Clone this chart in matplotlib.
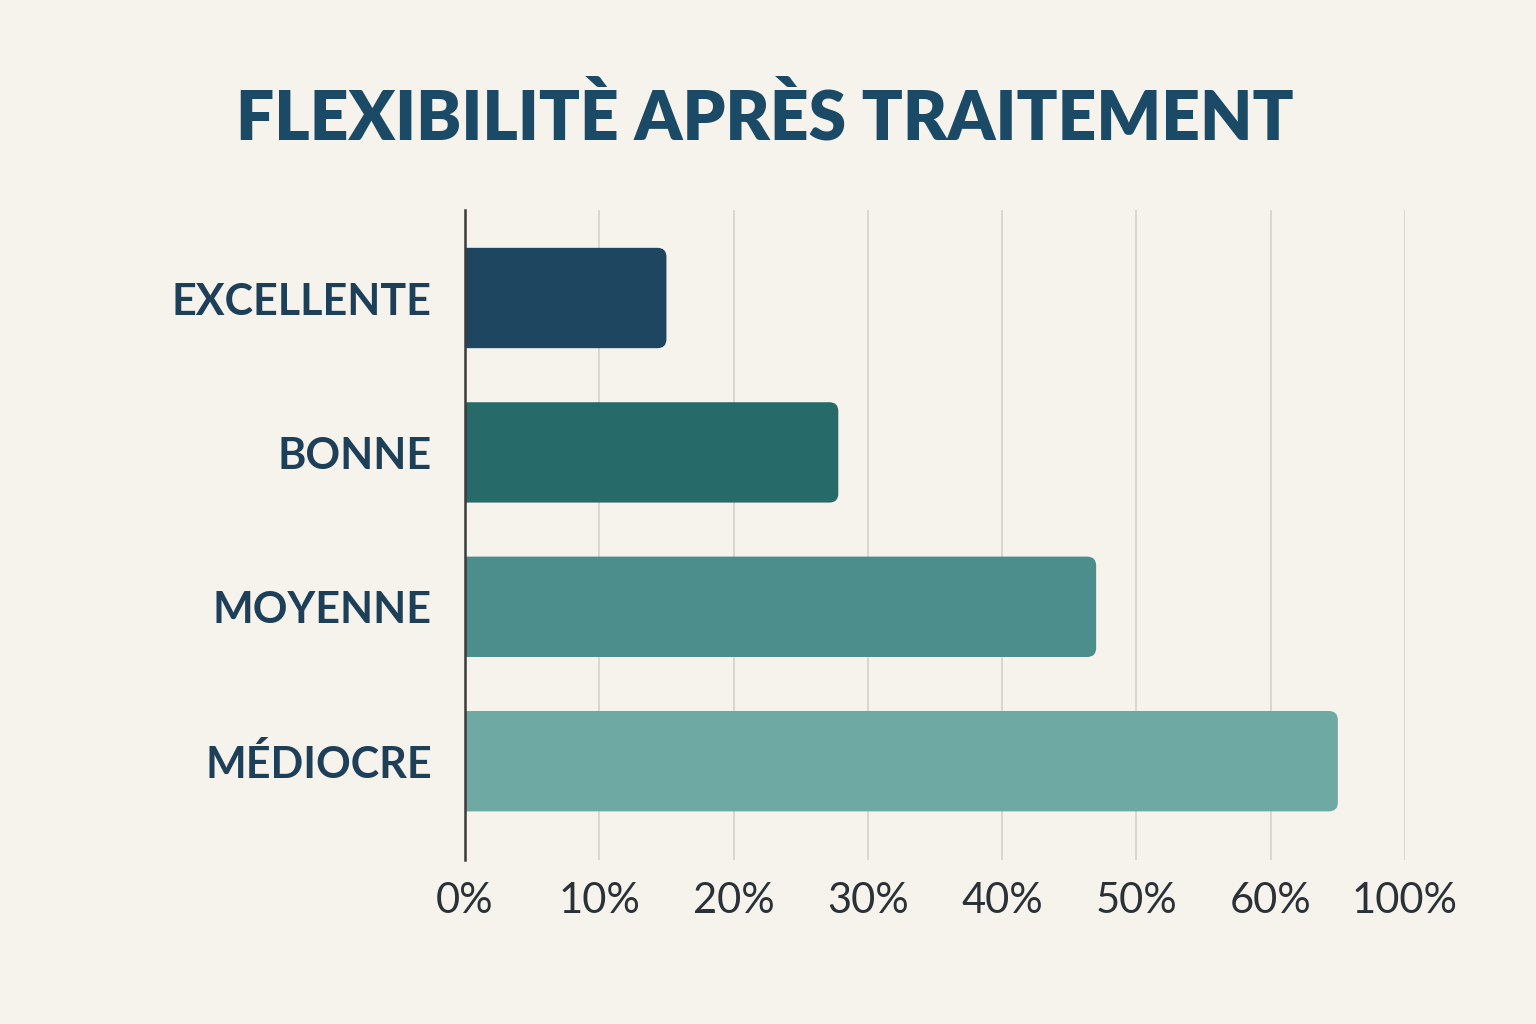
import matplotlib
matplotlib.use('Agg')
import matplotlib.pyplot as plt
from matplotlib.patches import FancyBboxPatch

# data
categories = ['EXCELLENTE', 'BONNE', 'MOYENNE', 'MÉDIOCRE']
values = [15, 27.8, 47, 65]
tick_pos = [0, 10, 20, 30, 40, 50, 60, 70]
tick_labels = ['0%', '10%', '20%', '30%', '40%', '50%', '60%', '100%']
colors = ['#1f4660', '#276a6a', '#4b8e8c', '#6ea9a3']
title = 'FLEXIBILITÈ APRÈS TRAITEMENT'

bg = '#f6f3ed'
fig = plt.figure(figsize=(15.36, 10.24), dpi=100, facecolor=bg)
ax = fig.add_axes([465/1536, 1-860/1024, (1405-465)/1536, (860-210)/1024])
ax.set_facecolor(bg)

ypos = list(range(len(categories)))
bars = ax.barh(ypos, values, height=0.65, color=colors)

# swap the plain bars for ones with rounded right ends
px_x = (1405-465)/70.0
px_y = 155.0
r = 9/px_x
for b, c in zip(bars, colors):
    x0, y0 = b.get_x(), b.get_y()
    w, h = b.get_width(), b.get_height()
    b.set_visible(False)
    p = FancyBboxPatch((x0-2, y0), w+2, h,
                       boxstyle=f"round,pad=0,rounding_size={r}",
                       mutation_aspect=(px_x/px_y),
                       facecolor=c, edgecolor='none', zorder=3)
    ax.add_patch(p)

ax.set_xlim(0, 70)
ax.set_ylim(3.64, -0.57)
ax.set_xticks(tick_pos)
ax.set_xticklabels(tick_labels, fontsize=30, color='#2b3237', family='Lato')
ax.set_yticks(ypos)
ax.set_yticklabels(categories, fontsize=31, color='#1d3f58', family='Lato', fontweight='bold')
ax.tick_params(axis='x', length=0, pad=16)
ax.tick_params(axis='y', length=0, pad=24)
ax.grid(axis='x', color='#d8d5cf', linewidth=1.3, zorder=0)
ax.set_axisbelow(True)
for s in ['top', 'right', 'bottom']:
    ax.spines[s].set_visible(False)
ax.spines['left'].set_color('#3a3a3a')
ax.spines['left'].set_linewidth(1.8)
ax.spines['left'].set_zorder(4)

fig.text(765/1536, 1-119/1024, title, ha='center', va='center',
         fontsize=48.7, fontweight='heavy', color='#1b4a66', family='Lato')

fig.savefig('out.png', dpi=100, facecolor=bg)
